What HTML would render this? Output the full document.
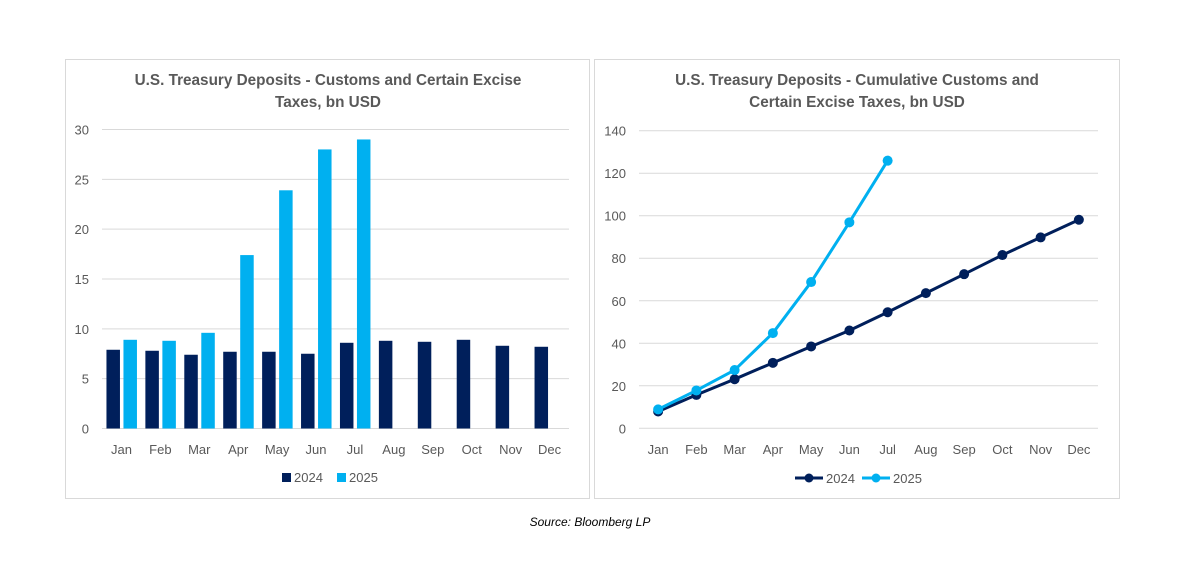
<!DOCTYPE html>
<html><head><meta charset="utf-8">
<style>
body{margin:0;background:#fff;width:1200px;height:560px;overflow:hidden;font-family:"Liberation Sans",sans-serif;}
svg text{font-family:"Liberation Sans",sans-serif;}
</style></head>
<body>
<svg id="s" width="1200" height="560" xmlns="http://www.w3.org/2000/svg">
<rect x="65.5" y="59.5" width="524" height="439" fill="#fff" stroke="#d9d9d9"/>
<rect x="594.5" y="59.5" width="525" height="439" fill="#fff" stroke="#d9d9d9"/>
<text x="328" y="85" text-anchor="middle" font-size="15.3" font-weight="bold" fill="#595959">U.S. Treasury Deposits - Customs and Certain Excise</text>
<text x="328" y="107" text-anchor="middle" font-size="15.3" font-weight="bold" fill="#595959">Taxes, bn USD</text>
<text x="857" y="85" text-anchor="middle" font-size="15.3" font-weight="bold" fill="#595959">U.S. Treasury Deposits - Cumulative Customs and</text>
<text x="857" y="107" text-anchor="middle" font-size="15.3" font-weight="bold" fill="#595959">Certain Excise Taxes, bn USD</text>
<g id="left"></g><g id="right"></g>
<rect x="282" y="473" width="9" height="9" fill="#001f5b"/>
<text x="294" y="482" font-size="13" fill="#595959">2024</text>
<rect x="337" y="473" width="9" height="9" fill="#00b0f0"/>
<text x="349" y="482" font-size="13" fill="#595959">2025</text>
<line x1="795" y1="478" x2="823" y2="478" stroke="#001f5b" stroke-width="3"/>
<circle cx="809" cy="478" r="4.5" fill="#001f5b"/>
<text x="826" y="483" font-size="13" fill="#595959">2024</text>
<line x1="862" y1="478" x2="890" y2="478" stroke="#00b0f0" stroke-width="3"/>
<circle cx="876" cy="478" r="4.5" fill="#00b0f0"/>
<text x="893" y="483" font-size="13" fill="#595959">2025</text>
<text x="590" y="526" text-anchor="middle" font-size="12" font-style="italic" fill="#000">Source: Bloomberg LP</text>
</svg>
<script>
const months=["Jan","Feb","Mar","Apr","May","Jun","Jul","Aug","Sep","Oct","Nov","Dec"];
const bars2024=[7.9,7.8,7.4,7.7,7.7,7.5,8.6,8.8,8.7,8.9,8.3,8.2];
const bars2025=[8.9,8.8,9.6,17.4,23.9,28.0,29.0];
const leftTicks=[0,5,10,15,20,25,30];
const cum2024=[7.9,15.7,23.1,30.8,38.5,46.0,54.6,63.6,72.5,81.5,89.8,98.1];
const cum2025=[8.9,17.8,27.4,44.8,68.8,96.9,125.9];
const rightTicks=[0,20,40,60,80,100,120,140];
const NS="http://www.w3.org/2000/svg";
function mk(p,t,a){const e=document.createElementNS(NS,t);for(const k in a)e.setAttribute(k,a[k]);p.appendChild(e);return e;}
// left
const L=document.getElementById('left');
const lx0=102,lx1=569,ly0=428.5,ly1=129.5;
const lxs=i=>lx0+(lx1-lx0)/12*(i+0.5);
const lys=v=>ly0-(ly0-ly1)*v/30;
leftTicks.forEach(t=>{
 const g=mk(L,'line',{x1:lx0,x2:lx1,y1:lys(t),y2:lys(t),stroke:'#d9d9d9'});
 
 
 const tx=mk(L,'text',{x:89,y:lys(t)+5,'text-anchor':'end','font-size':13,fill:'#595959'});tx.textContent=t;
 
 
});
months.forEach((m,i)=>{
 const tx=mk(L,'text',{x:lxs(i),y:454,'text-anchor':'middle','font-size':13,fill:'#595959'});tx.textContent=m;
 
 
 const v=bars2024[i];
 const r=mk(L,'rect',{x:lxs(i)-15,y:lys(v),width:13.5,height:ly0-lys(v),fill:'#001f5b'});
 
 
 if(i<bars2025.length){const w=bars2025[i];
 const r2=mk(L,'rect',{x:lxs(i)+2,y:lys(w),width:13.5,height:ly0-lys(w),fill:'#00b0f0'});
 
 }
});
// right
const R=document.getElementById('right');
const rx0=639,rx1=1098,ry0=428.3,ry1=130.7;
const rxs=i=>rx0+(rx1-rx0)/12*(i+0.5);
const rys=v=>ry0-(ry0-ry1)*v/140;
rightTicks.forEach(t=>{
 const g=mk(R,'line',{x1:rx0,x2:rx1,y1:rys(t),y2:rys(t),stroke:'#d9d9d9'});
 
 
 const tx=mk(R,'text',{x:626,y:rys(t)+5,'text-anchor':'end','font-size':13,fill:'#595959'});tx.textContent=t;
 
 
});
months.forEach((m,i)=>{
 const tx=mk(R,'text',{x:rxs(i),y:454,'text-anchor':'middle','font-size':13,fill:'#595959'});tx.textContent=m;
 
 
});
function series(arr,col,name){
 const pl=mk(R,'polyline',{points:arr.map((v,i)=>rxs(i)+','+rys(v)).join(' '),fill:'none',stroke:col,'stroke-width':3,'stroke-linejoin':'round'});
 
 
 arr.forEach((v,i)=>{const c=mk(R,'circle',{cx:rxs(i),cy:rys(v),r:5,fill:col});
 
 });
}
series(cum2024,'#001f5b','2024');
series(cum2025,'#00b0f0','2025');
</script>
</body></html>
